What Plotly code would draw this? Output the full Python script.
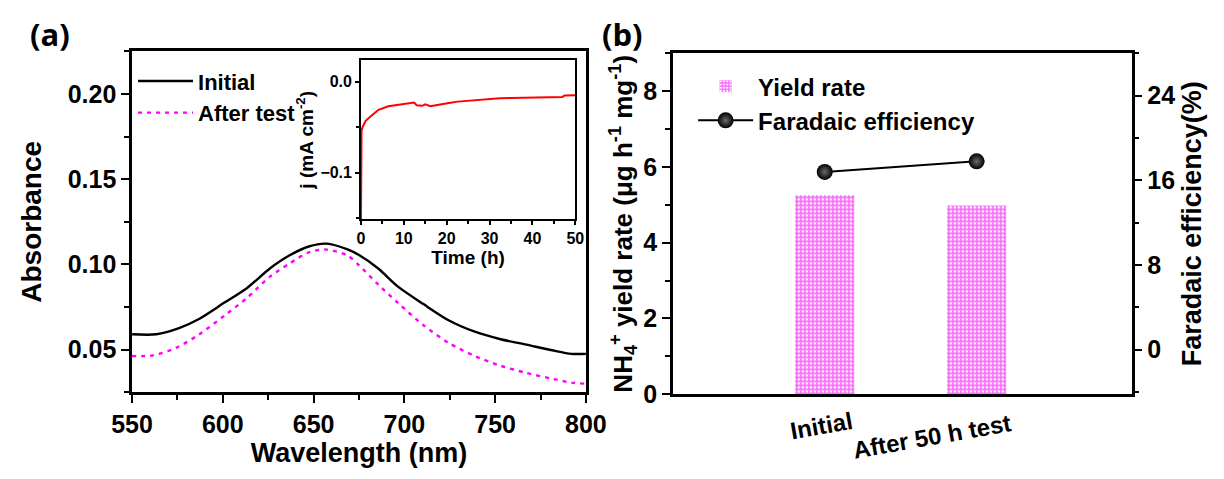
import plotly.graph_objects as go

# ---------- data ----------
# Panel (a): UV-vis absorbance
wl_initial = [550, 563.4, 575.9, 586.6, 600.9, 613.4, 625.9, 636.6, 647.3, 657.1, 668.7, 675,
              685.6, 696.3, 710.5, 724.6, 738.8, 753, 767.2, 781.4, 792, 800]
abs_initial = [0.059, 0.059, 0.0626, 0.0678, 0.0776, 0.0862, 0.0976, 0.1052, 0.1105, 0.1122, 0.1088,
               0.1055, 0.0976, 0.0871, 0.0767, 0.0671, 0.0605, 0.0561, 0.0529, 0.0496, 0.0475, 0.0475]
wl_after = [550, 561.6, 574.1, 586.6, 600.9, 613.4, 625.9, 636.6, 647.3, 657.1, 668.7, 675,
            685.6, 696.3, 710.5, 724.6, 738.8, 753, 767.2, 781.4, 792, 800]
abs_after = [0.0462, 0.0466, 0.051, 0.0586, 0.070, 0.0804, 0.0928, 0.1004, 0.1071, 0.1087, 0.1052,
             0.0995, 0.0881, 0.0776, 0.0643, 0.0538, 0.0462, 0.0405, 0.0363, 0.0329, 0.0306, 0.030]

# Inset: chronoamperometry
time_h = [0.0, 0.03, 0.08, 0.15, 0.38, 1.1, 2.3, 4.1, 6.4, 8.0, 9.8, 11.0, 12.4, 13.0, 14.3, 15.0,
          16.2, 17.5, 18.9, 20.5, 22.6, 25.0, 27.9, 30.0, 32.4, 35.0, 38.5, 42.0, 46.0, 47.0, 47.5, 50.0]
j_ma = [-0.16, -0.09, -0.062, -0.054, -0.05, -0.043, -0.038, -0.031, -0.027, -0.026, -0.0245, -0.024,
        -0.023, -0.026, -0.0266, -0.025, -0.027, -0.026, -0.0245, -0.0235, -0.022, -0.021, -0.0195,
        -0.019, -0.0184, -0.018, -0.0177, -0.0172, -0.0167, -0.0168, -0.0152, -0.015]

# Panel (b)
categories = ["Initial", "After 50 h test"]
yield_rate = [5.25, 4.98]
faradaic_eff = [16.8, 17.8]

# ---------- figure ----------
FONT = "Liberation Sans, Arial, sans-serif"
BOLD = dict(family=FONT, color="black", weight="bold")
fig = go.Figure()

fig.add_trace(go.Scatter(x=wl_initial, y=abs_initial, mode="lines", name="Initial",
                         line=dict(color="black", width=2.4, shape="spline", smoothing=0.8),
                         xaxis="x", yaxis="y", legend="legend"))
fig.add_trace(go.Scatter(x=wl_after, y=abs_after, mode="lines", name="After test",
                         line=dict(color="#ff00ff", width=2.4, dash="4px,5px", shape="spline",
                                   smoothing=0.8),
                         xaxis="x", yaxis="y", legend="legend"))

fig.add_trace(go.Scatter(x=time_h, y=j_ma, mode="lines", showlegend=False,
                         line=dict(color="#ff0000", width=2),
                         xaxis="x2", yaxis="y2"))

fig.add_trace(go.Bar(x=categories, y=yield_rate, name="Yield rate", width=0.39,
                     marker=dict(color="#ff70ff", line=dict(width=0),
                                 pattern=dict(shape=".", bgcolor="#fa70fa", fgcolor="white",
                                              size=4, solidity=0.3, fillmode="replace")),
                     xaxis="x3", yaxis="y3", legend="legend2"))
fig.add_trace(go.Scatter(x=categories, y=faradaic_eff, mode="lines+markers",
                         name="Faradaic efficiency",
                         line=dict(color="black", width=2),
                         marker=dict(size=16, color="black",
                                     gradient=dict(type="radial", color="#6a6a6a")),
                         xaxis="x3", yaxis="y4", legend="legend2"))

axis_common = dict(showline=True, linecolor="black", linewidth=2.5, showgrid=False, zeroline=False,
                   ticks="outside", tickcolor="black", tickwidth=2, ticklen=8,
                   tickfont=dict(**BOLD, size=25))

fig.update_layout(
    width=1224, height=479,
    margin=dict(l=0, r=0, t=0, b=0),
    paper_bgcolor="white", plot_bgcolor="white",
    font=dict(family=FONT, color="black"),
    xaxis=dict(**axis_common, domain=[115/1224, 585/1224], range=[550, 800], dtick=50, tick0=550,
               mirror=True, anchor="y",
               minor=dict(ticks="outside", dtick=25, ticklen=5, tickwidth=2, tickcolor="black"),
               title=dict(text="Wavelength (nm)", font=dict(**BOLD, size=27), standoff=6)),
    yaxis=dict(**axis_common, domain=[1-404/479, 1-53/479], range=[0.025, 0.225], dtick=0.05,
               tick0=0, tickformat=".2f", mirror=True, anchor="x",
               minor=dict(ticks="outside", dtick=0.025, ticklen=5, tickwidth=2, tickcolor="black"),
               title=dict(text="Absorbance", font=dict(**BOLD, size=28), standoff=18)),
    xaxis2=dict(showline=True, linecolor="black", linewidth=1.5, mirror=True, showgrid=False,
                zeroline=False, domain=[352/1224, 574/1224], range=[0, 50], dtick=10, anchor="y2",
                ticks="outside", ticklen=4, tickwidth=1.5, tickcolor="black",
                tickfont=dict(**BOLD, size=16),
                minor=dict(ticks="outside", dtick=5, ticklen=3, tickwidth=1.5, tickcolor="black"),
                title=dict(text="Time (h)", font=dict(**BOLD, size=19), standoff=4)),
    yaxis2=dict(showline=True, linecolor="black", linewidth=1.5, mirror=True, showgrid=False,
                zeroline=False, domain=[1-226/479, 1-62/479], range=[-0.151, 0.0234], dtick=0.1,
                tick0=0, tickformat=".1f", anchor="x2",
                ticks="outside", ticklen=4, tickwidth=1.5, tickcolor="black",
                tickfont=dict(**BOLD, size=16),
                minor=dict(ticks="outside", dtick=0.05, ticklen=3, tickwidth=1.5, tickcolor="black"),
                title=dict(text="j (mA cm<sup>-2</sup>)", font=dict(**BOLD, size=19), standoff=2)),
    xaxis3=dict(showline=True, linecolor="black", linewidth=2.5, mirror=True, showgrid=False,
                zeroline=False, domain=[675/1224, 1150/1224], range=[-1.0, 2.02], anchor="y3",
                type="category", ticks="", showticklabels=False),
    yaxis3=dict(**axis_common, domain=[1-406/479, 1-55/479], range=[0, 9], dtick=2, anchor="x3",
                minor=dict(ticks="outside", dtick=1, ticklen=5, tickwidth=2, tickcolor="black"),
                title=dict(text="NH<sub>4</sub><sup>+</sup> yield rate (μg h<sup>-1</sup> mg<sup>-1</sup>)",
                           font=dict(**BOLD, size=26), standoff=4)),
    yaxis4=dict(**axis_common, overlaying="y3", side="right", anchor="x3", range=[-4.2, 28],
                dtick=8, tick0=0,
                minor=dict(ticks="outside", dtick=4, ticklen=5, tickwidth=2, tickcolor="black"),
                title=dict(text="Faradaic efficiency(%)", font=dict(**BOLD, size=27),
                           standoff=8)),
    legend=dict(x=116/1224, y=1-62/479, xanchor="left", yanchor="top", bgcolor="rgba(0,0,0,0)",
                font=dict(**BOLD, size=22), itemwidth=55, tracegroupgap=0),
    legend2=dict(x=696/1224, y=1-66/479, xanchor="left", yanchor="top", bgcolor="rgba(0,0,0,0)",
                 font=dict(**BOLD, size=24), itemwidth=55, tracegroupgap=0),
    showlegend=True,
    annotations=[
        dict(text="(a)", x=30/1224, y=1-35/479, xref="paper", yref="paper", showarrow=False,
             xanchor="center", yanchor="middle",
             font=dict(family="Open Sans, Liberation Sans, sans-serif", size=31, color="black",
                       weight="bold")),
        dict(text="(b)", x=623/1224, y=1-35/479, xref="paper", yref="paper", showarrow=False,
             xanchor="center", yanchor="middle",
             font=dict(family="Open Sans, Liberation Sans, sans-serif", size=31, color="black",
                       weight="bold")),
        dict(text=categories[0], x=categories[0], xref="x3", y=1-438/479,
             yref="paper", xanchor="center", yanchor="middle", xshift=-3, textangle=-10,
             showarrow=False, font=dict(**BOLD, size=24)),
        dict(text=categories[1], x=categories[1], xref="x3", y=1-450/479,
             yref="paper", xanchor="center", yanchor="middle", xshift=-45, textangle=-10,
             showarrow=False, font=dict(**BOLD, size=24)),
    ],
)

fig.write_html("out.html")
